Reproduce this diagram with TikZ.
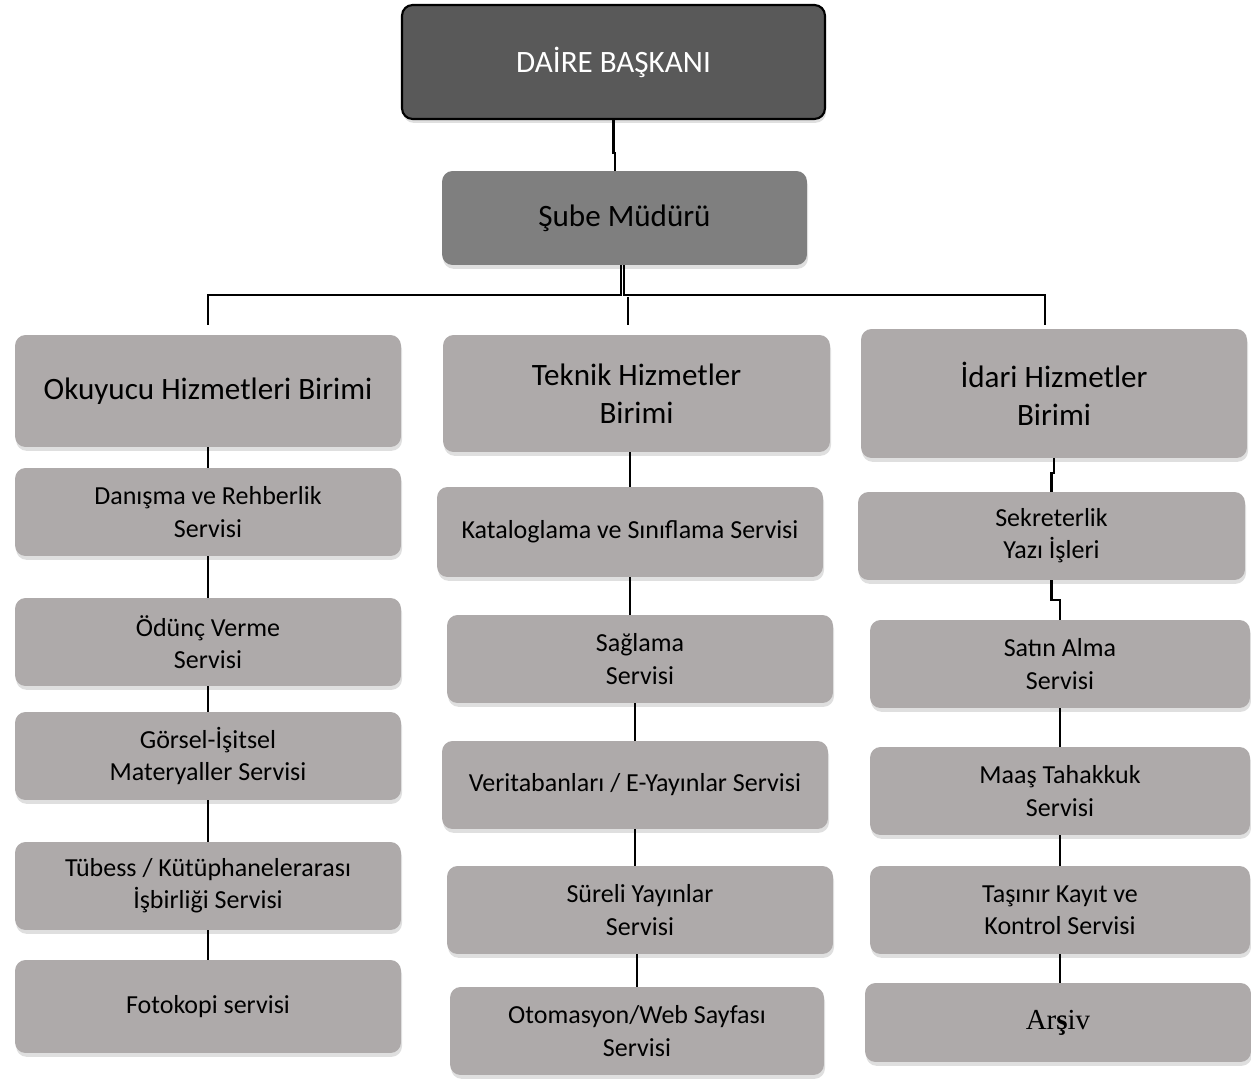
\documentclass[tikz,border=0pt]{standalone}
\usepackage{fontspec}
\setmainfont{Carlito}
\newfontfamily\arsivfont{Liberation Serif}
\usetikzlibrary{calc,shadows}

\definecolor{bascolor}{HTML}{595959}
\definecolor{subecolor}{HTML}{7F7F7F}
\definecolor{unitcolor}{HTML}{AEAAAA}

\tikzset{
    boxbase/.style={rectangle, rounded corners=6pt, inner sep=2pt, align=center,
        drop shadow={shadow xshift=0.6pt, shadow yshift=-2.2pt, opacity=0.25}},
    head/.style={boxbase, draw=black, line width=1.2pt, fill=bascolor, text=white,
        font=\fontsize{17.7}{21.6}\selectfont},
    sube/.style={boxbase, fill=subecolor, font=\fontsize{17.7}{21.6}\selectfont},
    unit/.style={boxbase, fill=unitcolor, minimum width=7.72cm,
        font=\fontsize{17.7}{21.6}\selectfont},
    serv/.style={boxbase, fill=unitcolor, minimum width=7.72cm, minimum height=1.76cm,
        font=\fontsize{14.8}{18.3}\selectfont},
    link/.style={line width=1.3pt, black}
}

\begin{document}
\begin{tikzpicture}[x=0.02cm, y=-0.02cm]

    \useasboundingbox (0,0) rectangle (1251,1084);

    % Define top boxes
    \node[head, minimum width=8.46cm, minimum height=2.28cm] (daire) at (613.5,62) {DAİRE BAŞKANI};
    \node[sube, minimum width=7.3cm, minimum height=1.88cm] (sube) at (624.5,218) {Şube Müdürü};

    % Define units
    \node[unit, minimum height=2.24cm] (okuyucu) at (208,391) {Okuyucu Hizmetleri Birimi};
    \node[unit, minimum width=7.74cm, minimum height=2.34cm] (teknik) at (636.5,393.5) {Teknik Hizmetler\\Birimi};
    \node[unit, minimum height=2.58cm] (idari) at (1054,393.5) {İdari Hizmetler\\Birimi};

    % Okuyucu services
    \node[serv] (danisma) at (208,512) {Danışma ve Rehberlik\\Servisi};
    \node[serv] (odunc) at (208,642) {Ödünç Verme\\Servisi};
    \node[serv] (gorsel) at (208,756) {Görsel-İşitsel\\Materyaller Servisi};
    \node[serv] (tubess) at (208,886) {Tübess / Kütüphanelerarası\\İşbirliği Servisi};
    \node[serv, minimum height=1.86cm] (fotokopi) at (208,1006.5) {Fotokopi servisi};

    % Teknik services
    \node[serv, minimum height=1.8cm] (katalog) at (630,532) {Kataloglama ve Sınıflama Servisi};
    \node[serv] (saglama) at (640,659) {Sağlama\\Servisi};
    \node[serv] (veri) at (635,785) {Veritabanları / E-Yayınlar Servisi};
    \node[serv] (sureli) at (640,910) {Süreli Yayınlar\\Servisi};
    \node[serv, minimum width=7.48cm] (otomasyon) at (637,1031) {Otomasyon/Web Sayfası\\Servisi};

    % Idari services
    \node[serv, minimum width=7.74cm] (sekreter) at (1051.5,536) {Sekreterlik\\Yazı İşleri};
    \node[serv, minimum width=7.6cm] (satin) at (1060,664) {Satın Alma\\Servisi};
    \node[serv, minimum width=7.6cm] (maas) at (1060,791) {Maaş Tahakkuk\\Servisi};
    \node[serv, minimum width=7.6cm] (tasinir) at (1060,910) {Taşınır Kayıt ve\\Kontrol Servisi};
    \node[serv, minimum height=1.58cm] (arsiv) at (1058,1022.5) {\arsivfont\fontsize{16.5}{19}\selectfont Ar\textbf{ş}iv};

    % Define coordinates
    \coordinate (j0) at (615,153);
    \coordinate (b1) at (208,295);
    \coordinate (b2) at (628,297);
    \coordinate (b3) at (1045,295);
    \coordinate (t1) at (208,325);
    \coordinate (t2) at (628,325);
    \coordinate (t3) at (1045,325);

    % Draw connectors
    \draw[link] (daire.south) |- (j0) -- (j0 |- sube.north);
    \draw[link] ([xshift=-2pt]sube.south) |- (b1) -- (t1);
    \draw[link] ([xshift=-0.2pt]sube.south) |- (b3) -- (t3);
    \draw[link] (b2) -- (t2);

    \draw[link] (okuyucu.south) -- (danisma.north);
    \draw[link] (danisma.south) -- (odunc.north);
    \draw[link] (odunc.south) -- (gorsel.north);
    \draw[link] (gorsel.south) -- (tubess.north);
    \draw[link] (tubess.south) -- (fotokopi.north);

    \draw[link] (teknik.south -| katalog.north) -- (katalog.north);
    \draw[link] (katalog.south) -- (katalog.south |- saglama.north);
    \draw[link] (saglama.south -| veri.north) -- (veri.north);
    \draw[link] (veri.south) -- (veri.south |- sureli.north);
    \draw[link] (sureli.south -| otomasyon.north) -- (otomasyon.north);

    \draw[link] (idari.south) -- ++(0,15) -| (sekreter.north);
    \draw[link] (sekreter.south) -- ++(0,20) -| (satin.north);
    \draw[link] (satin.south) -- (maas.north);
    \draw[link] (maas.south) -- (tasinir.north);
    \draw[link] (tasinir.south) -- (tasinir.south |- arsiv.north);

\end{tikzpicture}
\end{document}
